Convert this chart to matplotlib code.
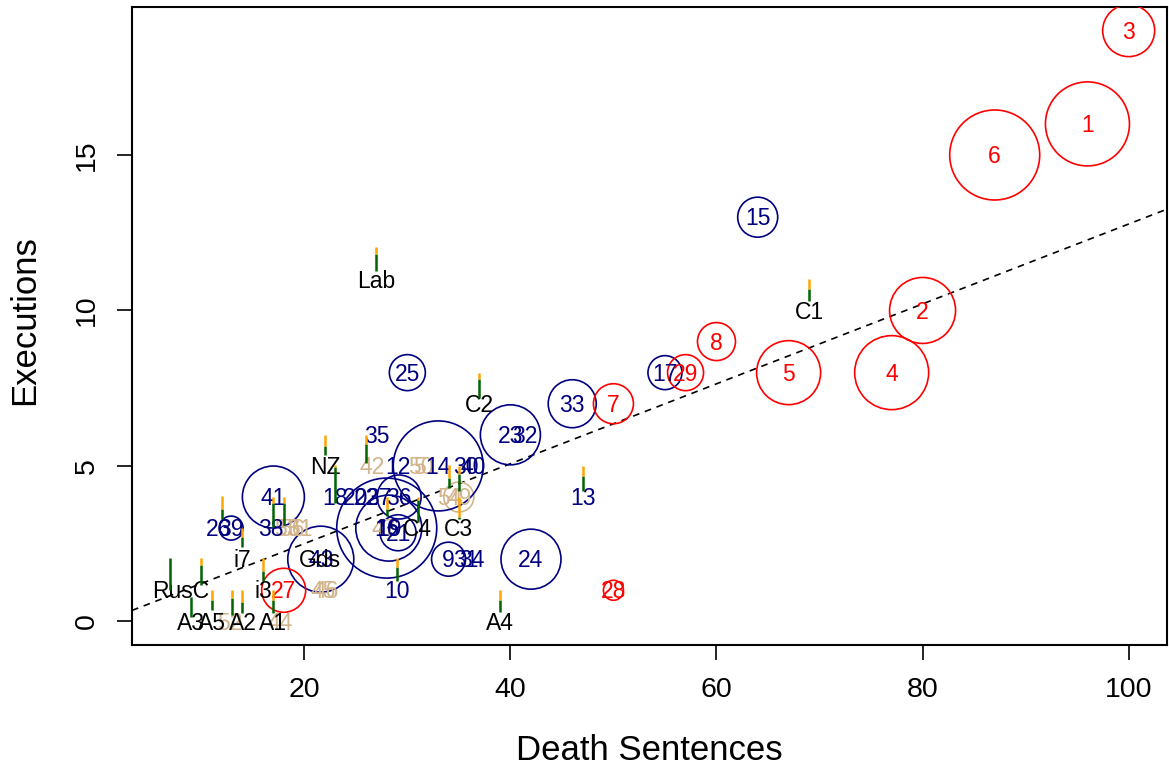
import matplotlib
matplotlib.use("Agg")
import matplotlib.pyplot as plt
import numpy as np

plt.rcParams['font.family'] = ['Liberation Sans', 'DejaVu Sans']

# ---- data ----
red_lab = ['1', '2', '3', '4', '5', '6', '7', '8', '27', '28', '29']
red_x = [96, 80, 100, 77, 67, 87, 50, 60, 18, 50, 57]
red_y = [16, 10, 19, 8, 8, 15, 7, 9, 1, 1, 8]
red_size = [42, 33, 26, 37, 32, 45, 20, 19, 22, 10, 18]

navy_lab = ['15', '17', '33', '23', '32', '25', '35', '41', '14', '30', '40', '12',
            '18', '20', '22', '37', '36', '16', '19', '21', '10', '9', '31', '34',
            '24', '38', '26', '39', '13', '43']
navy_x = [64, 55, 46, 40, 41.4, 30, 27, 17, 33, 35.7, 36.4, 29.1,
          23, 25, 26, 27.2, 29.2, 28, 28.2, 29.1, 29, 34, 35.7, 36.3,
          42, 16.8, 11.7, 12.9, 47, 21.6]
navy_y = [13, 8, 7, 6, 6, 8, 6, 4, 5, 5, 5, 5,
          4, 4, 4, 4, 4, 3, 3, 2.85, 1, 2, 2, 2,
          2, 3, 3, 3, 4, 2]
navy_size = [20, 17, 24, 30, 0, 18, 0, 31, 45, 0, 0, 0,
             0, 0, 0, 0, 22, 50, 33, 18, 0, 17, 0, 0,
             30, 0, 0, 12, 0, 33]

tan_lab = ['42', '50', '51', '54', '49', '47', '53', '56', '61', '45', '46', '52', '44']
tan_x = [26.6, 31.3, 31.8, 34.1, 35.0, 27.7, 18.3, 18.8, 19.6, 21.8, 22.1, 12.8, 17.7]
tan_y = [5, 5, 5, 4, 4, 3, 3, 3, 3, 1, 1, 0, 0]
tan_size = [0, 0, 0, 0, 15, 0, 0, 0, 0, 0, 0, 0, 0]

blk_lab = ['Lab', 'C1', 'C2', 'C3', 'C4', 'NZ', 'i7', 'i3', 'RusC',
           'A3', 'A5', 'A2', 'A1', 'A4', 'Gds']
blk_x = [27, 69, 37, 35, 31, 22, 14, 16, 8, 9, 11, 14, 17, 39, 21.5]
blk_y = [11, 10, 7, 3, 3, 5, 2, 1, 1, 0, 0, 0, 0, 0, 2]

# bars: x, bottom, green/orange split, top
bar_x = [27, 69, 37, 22, 23, 26, 28, 31, 29, 34, 35, 35, 17, 18, 12, 14,
         7, 10, 9, 11, 13, 14, 16, 17, 47, 39]
bar_lo = [11.26, 10.3, 7.2, 5.35, 3.8, 5.1, 3.4, 3.2, 1.3, 4.3, 4.2, 3.3, 3.03, 3.1, 3.3, 2.4,
          1.0, 1.16, 0.13, 0.35, 0.2, 0.26, 1.3, 0.26, 4.2, 0.3]
bar_mid = [11.8, 10.7, 7.8, 5.65, 4.95, 5.7, 3.6, 3.9, 1.75, 4.62, 4.75, 3.35, 3.8, 3.8, 3.62, 2.7,
           2.03, 1.8, 0.77, 0.68, 0.75, 0.62, 1.62, 0.68, 4.68, 0.68]
bar_hi = [12.03, 11.0, 8.0, 6.0, 5.03, 6.0, 4.0, 4.0, 2.03, 5.03, 5.0, 4.0, 4.0, 4.0, 4.03, 3.0,
          2.03, 2.03, 0.77, 1.0, 1.0, 1.0, 2.03, 1.0, 5.0, 1.0]

fit_coef = [-0.07, 0.1285]  # intercept, slope

xticks = [20, 40, 60, 80, 100]
yticks = [0, 5, 10, 15]

# ---- plot ----
W, H = 1169, 770
fig = plt.figure(figsize=(W / 100, H / 100), dpi=100)
ax = fig.add_axes([132 / W, 1 - 645 / H, (1167 - 132) / W, (645 - 7) / H])
ax.set_xlim(3.28, 103.72)
ax.set_ylim(-0.76, 19.76)

RED, NAVY, TAN = '#FF0000', '#000080', '#D2B48C'
FS = 16.5


def px2s(r):
    return (2 * r * 0.72) ** 2


def draw_group(labs, xs, ys, sizes, col):
    xs = np.asarray(xs, float)
    ys = np.asarray(ys, float)
    sizes = np.asarray(sizes, float)
    m = sizes > 0
    ax.scatter(xs[m], ys[m], s=px2s(sizes[m]), facecolors='none',
               edgecolors=col, linewidths=1.2, zorder=3)
    for l, x, y in zip(labs, xs, ys):
        ax.annotate(l, (x, y), xytext=(0, -5.9), textcoords='offset points',
                    ha='center', va='baseline', fontsize=FS, color=col, zorder=4)


ax.axline((0, fit_coef[0]), slope=fit_coef[1], color='black', lw=1.2,
          linestyle=(0, (4, 3.5)), zorder=2)

ax.vlines(bar_x, bar_lo, bar_mid, colors='#006400', lw=1.8, zorder=5)
ax.vlines(bar_x, bar_mid, bar_hi, colors='#FFA500', lw=1.8, zorder=5)

draw_group(tan_lab, tan_x, tan_y, tan_size, TAN)
draw_group(navy_lab, navy_x, navy_y, navy_size, NAVY)
draw_group(red_lab, red_x, red_y, red_size, RED)
draw_group(blk_lab, blk_x, blk_y, [0] * len(blk_lab), 'black')

ax.set_xticks(xticks)
ax.set_yticks(yticks)
ax.set_xticklabels([str(v) for v in xticks])
ax.set_yticklabels([str(v) for v in yticks], rotation=90, va='center')
ax.tick_params(axis='both', length=11, width=1.2, labelsize=20.5, pad=12)
for sp in ax.spines.values():
    sp.set_linewidth(1.5)

ax.set_xlabel('Death Sentences', fontsize=25, va='center')
ax.xaxis.set_label_coords(0.4995, -(750 - 645) / 638)
ax.set_ylabel('Executions', fontsize=25, va='center')
ax.yaxis.set_label_coords(-(132 - 25) / 1035, 0.51)

fig.savefig('out.png', dpi=100)
